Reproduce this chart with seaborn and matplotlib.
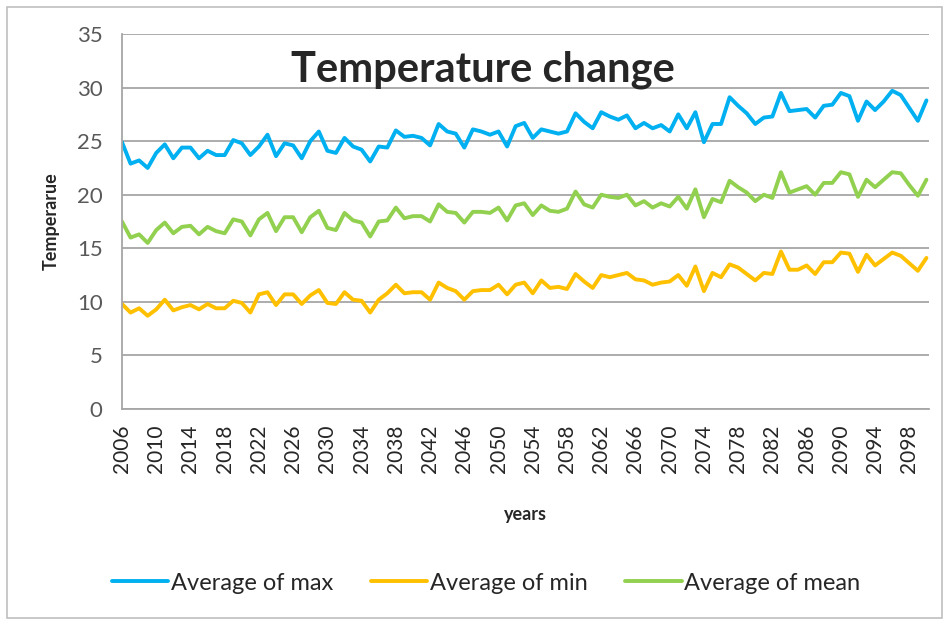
import pandas as pd
import seaborn as sns
import matplotlib.pyplot as plt
from matplotlib.patches import Rectangle
from matplotlib.ticker import MultipleLocator

# yearly values
years = list(range(2006, 2101))
avg_max = [24.9, 22.9, 23.2, 22.5, 23.9, 24.7, 23.4, 24.4, 24.4, 23.4,
           24.1, 23.7, 23.7, 25.1, 24.8, 23.7, 24.5, 25.6, 23.6, 24.8,
           24.6, 23.4, 25.0, 25.9, 24.1, 23.9, 25.3, 24.5, 24.2, 23.1,
           24.5, 24.4, 26.0, 25.4, 25.5, 25.3, 24.6, 26.6, 25.9, 25.7,
           24.4, 26.1, 25.9, 25.6, 25.9, 24.5, 26.4, 26.7, 25.3, 26.1,
           25.9, 25.7, 25.9, 27.6, 26.8, 26.2, 27.7, 27.3, 27.0, 27.4,
           26.2, 26.7, 26.2, 26.5, 25.9, 27.5, 26.2, 27.7, 24.9, 26.6,
           26.6, 29.1, 28.3, 27.6, 26.6, 27.2, 27.3, 29.5, 27.8, 27.9,
           28.0, 27.2, 28.3, 28.4, 29.5, 29.2, 26.9, 28.7, 27.9, 28.7,
           29.7, 29.3, 28.1, 26.9, 28.8]
avg_min = [9.8, 9.0, 9.4, 8.7, 9.3, 10.2, 9.2, 9.5, 9.7, 9.3,
           9.8, 9.4, 9.4, 10.1, 9.9, 9.0, 10.7, 10.9, 9.7, 10.7,
           10.7, 9.8, 10.6, 11.1, 9.9, 9.8, 10.9, 10.2, 10.1, 9.0,
           10.2, 10.8, 11.6, 10.8, 10.9, 10.9, 10.2, 11.8, 11.3, 11.0,
           10.2, 11.0, 11.1, 11.1, 11.6, 10.7, 11.6, 11.8, 10.8, 12.0,
           11.3, 11.4, 11.2, 12.6, 11.9, 11.3, 12.5, 12.3, 12.5, 12.7,
           12.1, 12.0, 11.6, 11.8, 11.9, 12.5, 11.5, 13.3, 11.0, 12.7,
           12.3, 13.5, 13.2, 12.6, 12.0, 12.7, 12.6, 14.7, 13.0, 13.0,
           13.4, 12.6, 13.7, 13.7, 14.6, 14.5, 12.8, 14.4, 13.4, 14.0,
           14.6, 14.3, 13.6, 12.9, 14.1]
avg_mean = [17.5, 16.0, 16.3, 15.5, 16.7, 17.4, 16.4, 17.0, 17.1, 16.3,
            17.0, 16.6, 16.4, 17.7, 17.5, 16.2, 17.7, 18.3, 16.6, 17.9,
            17.9, 16.5, 17.9, 18.5, 16.9, 16.7, 18.3, 17.6, 17.4, 16.1,
            17.5, 17.6, 18.8, 17.8, 18.0, 18.0, 17.5, 19.1, 18.4, 18.3,
            17.4, 18.4, 18.4, 18.3, 18.8, 17.6, 19.0, 19.2, 18.1, 19.0,
            18.5, 18.4, 18.7, 20.3, 19.1, 18.8, 20.0, 19.8, 19.7, 20.0,
            19.0, 19.4, 18.8, 19.2, 18.9, 19.8, 18.7, 20.5, 17.9, 19.6,
            19.3, 21.3, 20.7, 20.2, 19.4, 20.0, 19.7, 22.1, 20.2, 20.5,
            20.8, 20.0, 21.1, 21.1, 22.1, 21.9, 19.8, 21.4, 20.7, 21.4,
            22.1, 22.0, 20.9, 19.9, 21.4]

series_names = ['Average of max', 'Average of min', 'Average of mean']
series_colors = ['#00B0F0', '#FFC000', '#92D050']

df = pd.DataFrame({'year': years, 'Average of max': avg_max,
                   'Average of min': avg_min, 'Average of mean': avg_mean})
long_df = df.melt(id_vars='year', var_name='series', value_name='temp')

sns.set_style('white')
plt.rcParams['font.family'] = ['Lato', 'DejaVu Sans']

fig = plt.figure(figsize=(9.49, 6.24), dpi=100)
# outer chart border
fig.patches.append(Rectangle((7 / 949, 1 - 618 / 624), 935 / 949, 611 / 624,
                             transform=fig.transFigure, fill=False,
                             edgecolor='#BFBFBF', linewidth=1.2))

ax = fig.add_axes([122 / 949, 1 - 409 / 624, 807 / 949, 375 / 624])
sns.lineplot(data=long_df, x='year', y='temp', hue='series',
             hue_order=series_names, palette=series_colors,
             linewidth=2.8, ax=ax, legend=False)

ax.set_xlim(2006, 2100.3)
ax.set_ylim(0, 35)
ax.set_yticks(range(0, 36, 5))
ax.set_xticks(range(2006, 2099, 4))
ax.xaxis.set_minor_locator(MultipleLocator(1))
ax.set_xticklabels([str(y) for y in range(2006, 2099, 4)], rotation=90)
ax.grid(axis='y', color='#A6A6A6', linewidth=1.3)
ax.set_axisbelow(True)

for side in ['top', 'right']:
    ax.spines[side].set_visible(False)
for side in ['left', 'bottom']:
    ax.spines[side].set_color('#A6A6A6')
    ax.spines[side].set_linewidth(1.3)

ax.tick_params(axis='y', which='major', length=8, color='#A6A6A6',
               labelsize=16, labelcolor='#595959', pad=6)
ax.tick_params(axis='x', which='both', length=6, color='#A6A6A6',
               labelsize=15, labelcolor='#262626', pad=5)

ax.set_xlabel('years', fontsize=13, fontweight='bold', labelpad=24)
ax.set_ylabel('Temperarue', fontsize=13, fontweight='bold', labelpad=12)
ax.set_title('Temperature change', fontsize=30, fontweight='bold',
             x=0.447, y=0.85)

handles = ax.get_lines()[:3]
fig.legend(handles, series_names, loc='center',
           bbox_to_anchor=(0.512, 1 - 583 / 624), ncol=3, frameon=False,
           fontsize=17, handlelength=2.4, handletextpad=0.1,
           columnspacing=1.6)

fig.savefig('out.png', dpi=100)
